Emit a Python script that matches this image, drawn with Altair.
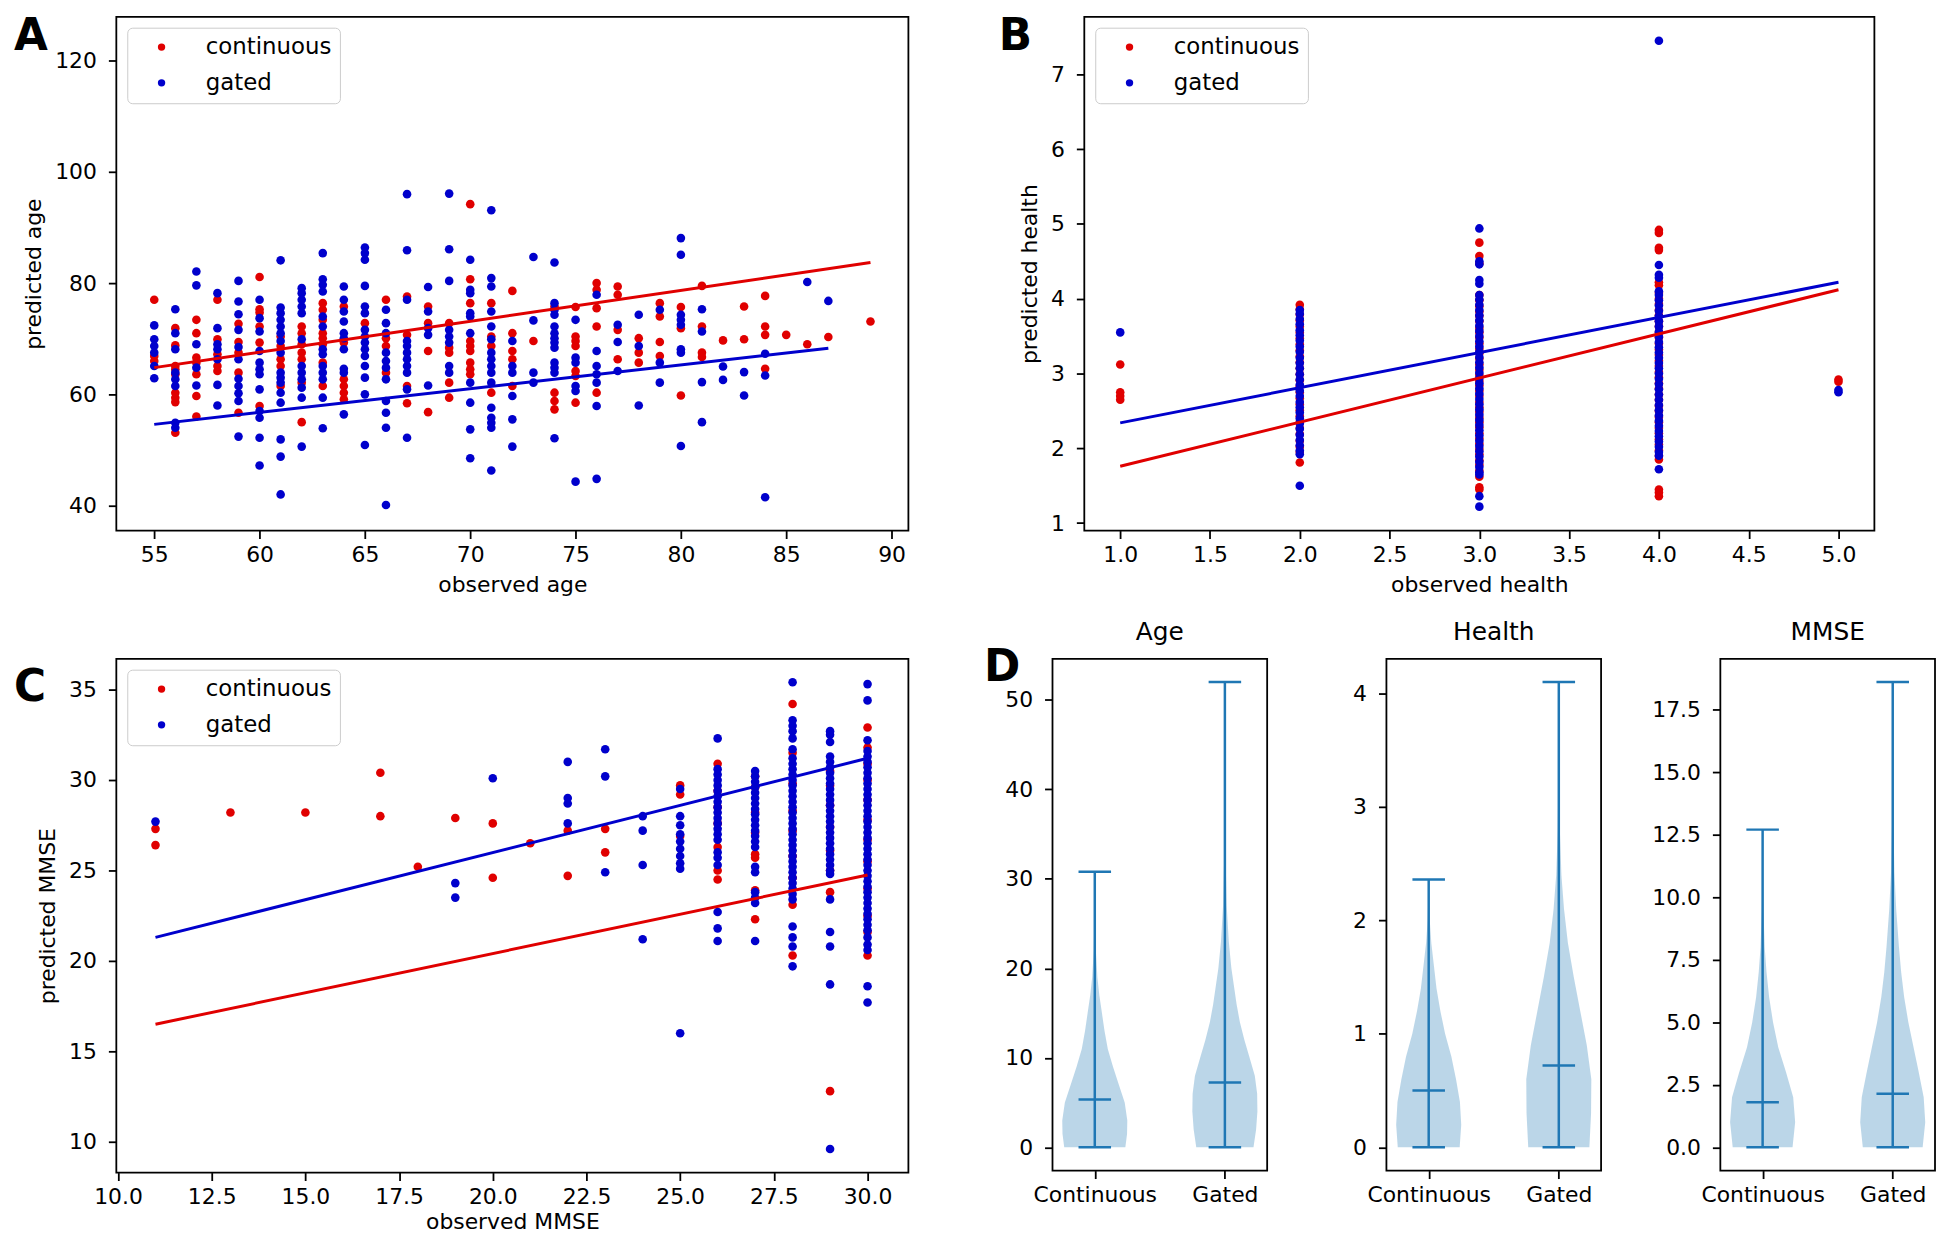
import altair as alt
import pandas as pd

RED = "#e00000"
BLUE = "#0000cc"
VIOLIN = "#1f77b4"
FONT = "DejaVu Sans"
SERIES = ["continuous", "gated"]

# ---------------- Panel A: age ----------------
age_cont_x = [55, 56, 57, 58, 59, 60, 61, 62, 63, 64, 65, 66, 67, 68, 69, 70, 71, 72,
              73, 74, 75, 76, 77, 78, 79, 80, 81, 82, 83, 84, 85, 86, 87, 89]
age_cont_y = [
    [77.0, 66.9, 66.0],
    [71.9, 68.8, 65.1, 64.5, 63.6, 60.3, 59.4, 58.6, 53.1],
    [73.4, 71.0, 66.6, 65.7, 63.6, 59.7, 56.0],
    [77.0, 69.9, 67.2, 65.1, 64.2],
    [72.7, 69.4, 67.5, 63.9, 56.7],
    [81.1, 75.3, 74.7, 72.2, 69.3, 57.9],
    [70.4, 68.7, 66.3, 65.1, 61.5],
    [72.2, 71.0, 69.0, 67.5, 66.3, 62.1, 55.0],
    [76.4, 75.2, 73.4, 71.0, 70.1, 69.0, 65.7, 61.5],
    [75.8, 69.3, 62.7, 61.5, 60.3, 59.1],
    [72.8],
    [77.0, 70.1, 68.7, 63.9],
    [77.6, 70.7, 61.5, 58.4],
    [75.8, 72.8, 67.8, 56.8],
    [72.8, 68.4, 67.5, 62.1, 59.4],
    [94.2, 80.7, 76.4, 69.6, 68.7, 67.8, 65.7, 64.5, 63.6],
    [76.4, 70.4, 68.7, 60.3],
    [78.6, 71.0, 67.8, 66.3, 61.5],
    [69.6],
    [75.8, 60.3, 58.8, 57.3],
    [75.7, 70.4, 69.6, 68.7, 64.2, 63.3, 58.5],
    [80.0, 78.8, 75.5, 72.2, 60.3],
    [79.4, 77.9, 71.6, 66.3],
    [70.1, 67.5, 65.7],
    [76.4, 74.0, 69.4, 66.9],
    [75.7, 71.9, 59.8],
    [79.5, 72.2, 67.5, 66.7],
    [69.7],
    [75.8, 69.9],
    [77.7, 72.2, 70.7, 64.6],
    [70.7],
    [69.0],
    [70.3],
    [73.1],
]
age_gated_x = [55, 56, 57, 58, 59, 60, 61, 62, 63, 64, 65, 66, 67, 68, 69, 70, 71, 72,
               73, 74, 75, 76, 77, 78, 79, 80, 81, 82, 83, 84, 86, 87]
age_gated_y = [
    [72.4, 69.9, 68.7, 67.5, 65.1, 62.9],
    [75.3, 71.0, 68.1, 63.9, 62.7, 61.5, 54.9, 54.0],
    [82.1, 79.6, 69.0, 64.8, 61.6],
    [123.7, 78.2, 71.9, 69.0, 68.1, 66.3, 61.7, 58.0],
    [80.4, 76.7, 74.4, 71.6, 68.5, 66.3, 62.8, 61.5, 60.2, 58.8, 52.4],
    [77.0, 73.7, 71.3, 67.8, 65.7, 64.5, 63.6, 60.9, 57.0, 55.8, 52.2, 47.2],
    [84.1, 75.6, 74.6, 73.4, 72.2, 71.0, 69.6, 67.5, 63.9, 63.0, 62.1, 60.3, 58.5, 51.9, 48.8, 42.0],
    [79.1, 78.2, 77.0, 75.8, 74.6, 69.9, 65.1, 63.9, 62.7, 61.2, 59.4, 50.6],
    [85.4, 80.7, 79.7, 78.5, 74.0, 72.2, 68.1, 67.2, 65.1, 63.9, 62.7, 59.4, 53.9],
    [79.4, 77.0, 74.9, 73.1, 71.0, 70.1, 68.1, 64.6, 63.9, 56.4],
    [86.4, 85.4, 84.2, 79.5, 75.8, 74.6, 71.6, 70.4, 69.3, 68.1, 66.9, 65.1, 63.0, 60.0, 50.9],
    [75.2, 72.8, 71.0, 67.5, 66.0, 64.8, 62.7, 58.8, 56.7, 54.0, 40.1],
    [96.0, 85.9, 77.0, 69.6, 68.7, 67.5, 66.3, 65.1, 63.9, 60.9, 52.2],
    [79.3, 74.9, 71.9, 70.7, 61.6],
    [96.1, 86.1, 80.4, 71.6, 70.4, 69.3, 65.1, 63.9],
    [84.2, 78.8, 78.2, 74.6, 74.0, 71.0, 62.1, 58.5, 53.7, 48.5],
    [93.1, 80.9, 79.4, 74.9, 72.2, 69.9, 67.5, 66.3, 65.1, 63.9, 62.1, 57.6, 55.8, 54.9, 54.0, 46.3],
    [69.6, 65.1, 63.9, 59.7, 55.5, 50.6],
    [84.7, 73.3, 63.9, 62.1],
    [83.7, 76.4, 75.2, 74.3, 72.2, 71.0, 70.1, 69.3, 68.4, 65.7, 64.8, 63.9, 52.1],
    [73.4, 66.6, 65.7, 61.5, 60.6, 44.3],
    [77.9, 67.8, 65.1, 63.6, 62.1, 57.9, 44.8],
    [72.5, 69.4, 64.2],
    [74.3, 68.7, 58.0],
    [75.2, 65.7, 62.1],
    [88.1, 85.1, 74.3, 73.4, 72.5, 68.1, 67.5, 50.7],
    [75.3, 71.3, 62.2, 55.0],
    [65.0, 62.6],
    [64.0, 59.8],
    [67.3, 63.4, 41.5],
    [80.2],
    [76.8],
]
age_fit_cont_x = [55, 89]
age_fit_cont_y = [64.8, 83.7]
age_fit_gated_x = [55, 87]
age_fit_gated_y = [54.6, 68.3]

# ---------------- Panel B: health ----------------
health_cont_x = [1, 2, 3, 4, 5]
health_cont_y = [
    [3.12, 2.75, 2.70, 2.65],
    [3.92, 3.86, 3.79, 3.71, 3.63, 3.55, 3.47, 3.39, 3.31, 3.23, 3.15, 3.07, 2.99, 2.91,
     2.83, 2.75, 2.67, 2.59, 2.51, 2.43, 2.35, 2.27, 2.19, 2.10, 2.02, 1.95, 1.81],
    [4.75, 4.57, 4.47, 4.05, 3.98, 3.90, 3.83, 3.77, 3.70, 3.61, 3.55, 3.48, 3.40, 3.33,
     3.27, 3.20, 3.12, 3.05, 2.98, 2.90, 2.84, 2.77, 2.70, 2.62, 2.55, 2.49, 2.41, 2.35,
     2.28, 2.20, 2.13, 2.06, 1.99, 1.92, 1.84, 1.78, 1.70, 1.62, 1.48, 1.45],
    [4.92, 4.88, 4.68, 4.65, 4.22, 4.18, 4.08, 4.00, 3.93, 3.85, 3.78, 3.70, 3.63, 3.55,
     3.48, 3.40, 3.32, 3.25, 3.17, 3.10, 3.02, 2.95, 2.87, 2.80, 2.72, 2.65, 2.57, 2.50,
     2.42, 2.35, 2.27, 2.20, 2.12, 2.05, 1.97, 1.90, 1.85, 1.45, 1.41, 1.36],
    [2.92, 2.89],
]
health_gated_x = [1, 2, 3, 4, 5]
health_gated_y = [
    [3.55],
    [3.85, 3.80, 3.73, 3.66, 3.58, 3.51, 3.44, 3.36, 3.29, 3.21, 3.14, 3.07, 2.99, 2.92,
     2.85, 2.77, 2.70, 2.62, 2.55, 2.48, 2.40, 2.33, 2.26, 2.18, 2.11, 2.04, 1.97, 1.92, 1.50],
    [4.94, 4.50, 4.46, 4.25, 4.20, 4.05, 3.99, 3.92, 3.85, 3.78, 3.71, 3.64, 3.57, 3.50,
     3.43, 3.36, 3.29, 3.22, 3.15, 3.08, 3.01, 2.94, 2.87, 2.80, 2.73, 2.66, 2.59, 2.52,
     2.45, 2.38, 2.31, 2.24, 2.17, 2.10, 2.03, 1.96, 1.89, 1.82, 1.75, 1.68, 1.65, 1.36, 1.22],
    [7.45, 4.45, 4.32, 4.28, 4.10, 4.05, 3.98, 3.91, 3.84, 3.77, 3.70, 3.63, 3.56, 3.49,
     3.42, 3.35, 3.28, 3.21, 3.14, 3.07, 3.00, 2.93, 2.86, 2.79, 2.72, 2.65, 2.58, 2.51,
     2.44, 2.37, 2.30, 2.23, 2.16, 2.09, 2.02, 1.95, 1.90, 1.72],
    [2.78, 2.75],
]
health_fit_cont_x = [1, 5]
health_fit_cont_y = [1.76, 4.12]
health_fit_gated_x = [1, 5]
health_fit_gated_y = [2.34, 4.22]

# ---------------- Panel C: MMSE ----------------
mmse_cont_x = [11, 13, 15, 17, 18, 19, 20, 21, 22, 23, 25, 26, 27, 28, 29, 30]
mmse_cont_y = [
    [27.3, 26.4],
    [28.2],
    [28.2],
    [30.4, 28.0],
    [25.2],
    [27.9],
    [27.6, 24.6],
    [26.5],
    [27.2, 24.7],
    [27.3, 26.0],
    [29.7, 29.2, 26.9],
    [30.9, 29.4, 28.5, 27.6, 26.3, 25.0, 24.5],
    [30.2, 29.6, 28.2, 27.1, 25.9, 25.7, 23.9, 22.3],
    [34.2, 31.5, 29.8, 28.3, 27.2, 25.8, 24.6, 23.1, 20.3],
    [30.5, 29.7, 28.6, 27.4, 26.1, 25.0, 23.8, 12.8],
    [32.9, 31.8, 30.9, 30.0, 28.9, 27.8, 26.7, 25.5, 24.0, 22.5, 21.6, 20.3],
]
mmse_gated_x = [11, 19, 20, 22, 23, 24, 25, 26, 27, 28, 29, 30]
mmse_gated_y = [
    [27.7],
    [24.3, 23.5],
    [30.1],
    [31.0, 29.0, 28.7, 27.6],
    [31.7, 30.2, 24.9],
    [28.0, 27.2, 25.3, 21.2],
    [29.5, 28.0, 27.5, 27.0, 26.6, 26.2, 25.8, 25.4, 25.1, 16.0],
    [32.3, 30.6, 30.3, 30.0, 29.7, 29.4, 29.1, 28.8, 28.5, 28.2, 27.9, 27.6, 27.3, 27.0,
     26.7, 26.0, 25.7, 25.3, 22.7, 21.8, 21.1],
    [30.5, 30.2, 29.9, 29.6, 29.3, 29.0, 28.7, 28.4, 28.1, 27.8, 27.5, 27.2, 26.9, 26.6,
     26.3, 25.2, 24.9, 23.8, 23.5, 23.2, 21.1],
    [35.4, 33.3, 33.0, 32.7, 32.3, 31.7, 31.2, 30.9, 30.6, 30.3, 30.0, 29.7, 29.4, 29.1,
     28.8, 28.5, 28.2, 27.9, 27.6, 27.3, 27.0, 26.7, 26.4, 26.1, 25.8, 25.5, 25.2, 24.9,
     24.6, 24.3, 24.0, 23.7, 23.4, 21.9, 21.3, 20.8, 19.7],
    [32.7, 32.5, 32.1, 31.3, 31.0, 30.7, 30.4, 30.1, 29.8, 29.5, 29.2, 28.9, 28.6, 28.3,
     28.0, 27.7, 27.4, 27.1, 26.8, 26.5, 26.2, 25.9, 25.6, 25.3, 25.0, 24.8, 23.4, 21.6,
     20.8, 18.7, 9.6],
    [35.3, 34.4, 32.2, 31.6, 31.3, 31.0, 30.7, 30.4, 30.1, 29.8, 29.5, 29.2, 28.9, 28.6,
     28.3, 28.0, 27.7, 27.4, 27.1, 26.8, 26.5, 26.2, 25.9, 25.6, 25.3, 25.0, 24.7, 24.4,
     24.1, 23.8, 23.5, 23.2, 22.9, 22.6, 22.3, 22.0, 21.7, 21.3, 20.9, 20.6, 18.6, 17.7],
]
mmse_fit_cont_x = [11, 30]
mmse_fit_cont_y = [16.5, 24.75]
mmse_fit_gated_x = [11, 30]
mmse_fit_gated_y = [21.3, 31.2]

# ---------------- Panel D: violins of absolute error ----------------
violin_cats = ["Continuous", "Gated"]
violin_pos = [1, 2]

age_cont_lvl = [0, 1.5, 3, 5, 7, 9, 11, 13, 15, 17, 19, 22, 26, 30.8]
age_cont_hw = [0.235, 0.248, 0.25, 0.23, 0.185, 0.14, 0.10, 0.075, 0.055, 0.035, 0.02, 0.008, 0.003, 0.0]
age_gated_lvl = [0, 2, 4, 6, 8, 10, 12, 14, 16, 18, 20, 23, 27, 32, 40, 52]
age_gated_hw = [0.22, 0.24, 0.25, 0.248, 0.23, 0.19, 0.15, 0.115, 0.09, 0.07, 0.05, 0.03, 0.014, 0.006, 0.002, 0.0]
age_median = [5.35, 7.25]
age_max = [30.8, 52.0]
age_min = [0.0, 0.0]

health_cont_lvl = [0, 0.2, 0.4, 0.6, 0.8, 1.0, 1.2, 1.4, 1.6, 1.8, 2.0, 2.36]
health_cont_hw = [0.238, 0.25, 0.24, 0.21, 0.174, 0.126, 0.09, 0.06, 0.04, 0.02, 0.008, 0.0]
health_gated_lvl = [0, 0.3, 0.6, 0.9, 1.2, 1.5, 1.8, 2.1, 2.4, 2.8, 3.3, 4.1]
health_gated_hw = [0.235, 0.248, 0.25, 0.215, 0.165, 0.115, 0.07, 0.04, 0.02, 0.008, 0.003, 0.0]
health_median = [0.50, 0.72]
health_max = [2.36, 4.10]
health_min = [0.0, 0.0]

mmse_cont_lvl = [0, 1, 2, 3, 4, 5, 6, 7, 8, 9.5, 11, 12.7]
mmse_cont_hw = [0.23, 0.25, 0.235, 0.18, 0.12, 0.08, 0.05, 0.03, 0.016, 0.006, 0.002, 0.0]
mmse_gated_lvl = [0, 1, 2, 3, 4, 5, 6, 7, 8, 9.5, 11, 13, 15.5, 18.6]
mmse_gated_hw = [0.23, 0.25, 0.238, 0.2, 0.16, 0.12, 0.088, 0.065, 0.048, 0.027, 0.013, 0.005, 0.002, 0.0]
mmse_median = [1.80, 2.14]
mmse_max = [12.7, 18.6]
mmse_min = [0.0, 0.0]


def scatter_df(cx, cy, gx, gy):
    rows = []
    for series, xs, ys in (("continuous", cx, cy), ("gated", gx, gy)):
        for x, col in zip(xs, ys):
            for v in col:
                rows.append({"obs": x, "pred": v, "series": series, "idx": len(rows)})
    return pd.DataFrame(rows)


def fit_df(cx, cy, gx, gy):
    return pd.DataFrame({"obs": cx + gx, "pred": cy + gy,
                         "series": ["continuous"] * len(cx) + ["gated"] * len(gx)})


def letter_layer(letter, lx, ly):
    return alt.Chart(pd.DataFrame({"t": [letter]})).mark_text(
        font=FONT, fontSize=44, fontWeight="bold", align="left", baseline="alphabetic", color="black"
    ).encode(text="t:N", x=alt.value(lx), y=alt.value(ly))


def pin_layer(x, y1, y2):
    # invisible (white) spacer that fixes the layout bounds of a panel
    return alt.Chart(pd.DataFrame({"p": [0]})).mark_rule(color="white", strokeWidth=1).encode(
        x=alt.value(x), x2=alt.value(x), y=alt.value(y1), y2=alt.value(y2))


def scatter_panel(pts, fit, xdom, ydom, xticks, yticks, xfmt, yfmt, xtitle, ytitle,
                  letter, lx, ly, width, height, pins, xtitle_pad=9):
    xs = alt.Scale(domain=xdom, nice=False, zero=False)
    ys = alt.Scale(domain=ydom, nice=False, zero=False)
    legend = alt.Legend(title=None, orient="none", legendX=11, legendY=11,
                        fillColor="white", strokeColor="#cccccc", cornerRadius=5, padding=8,
                        labelFont=FONT, labelFontSize=23, labelColor="black",
                        symbolType="circle", symbolSize=55, symbolStrokeWidth=0, symbolOpacity=1,
                        rowPadding=12, symbolOffset=15, labelOffset=33)
    points = alt.Chart(pts).mark_circle(size=75, opacity=1).encode(
        x=alt.X("obs:Q", scale=xs,
                axis=alt.Axis(values=xticks, format=xfmt, title=xtitle, titlePadding=xtitle_pad)),
        y=alt.Y("pred:Q", scale=ys, axis=alt.Axis(values=yticks, format=yfmt, title=ytitle)),
        color=alt.Color("series:N", scale=alt.Scale(domain=SERIES, range=[RED, BLUE]), legend=legend),
        order=alt.Order("idx:Q"),
    )
    lines = alt.Chart(fit).mark_line(strokeWidth=3).encode(
        x=alt.X("obs:Q", scale=xs),
        y=alt.Y("pred:Q", scale=ys),
        stroke=alt.Stroke("series:N", scale=alt.Scale(domain=SERIES, range=[RED, BLUE]), legend=None),
        detail="series:N",
    )
    layers = [points, lines, letter_layer(letter, lx, ly)] + [pin_layer(*p) for p in pins]
    return alt.layer(*layers).properties(width=width, height=height)


def violin_panel(title, c_lvl, c_hw, g_lvl, g_hw, med, mx, mn, ydom, yticks, yfmt,
                 letter=None, width=216, height=515, title_offset=10):
    rows = []
    for grp, pos, lvl, hw in ((violin_cats[0], violin_pos[0], c_lvl, c_hw),
                              (violin_cats[1], violin_pos[1], g_lvl, g_hw)):
        for v, h in zip(lvl, hw):
            rows.append({"grp": grp, "val": v, "lo": pos - h, "hi": pos + h})
    area_df = pd.DataFrame(rows)
    stats = pd.DataFrame({"pos": violin_pos, "med": med, "mx": mx, "mn": mn})
    stats["l"] = stats["pos"] - 0.125
    stats["r"] = stats["pos"] + 0.125
    xs = alt.Scale(domain=[0.675, 2.325], nice=False, zero=False)
    ys = alt.Scale(domain=ydom, nice=False, zero=False)
    label_expr = "datum.value == 1 ? '%s' : '%s'" % (violin_cats[0], violin_cats[1])
    area = alt.Chart(area_df).mark_area(orient="horizontal", color=VIOLIN, opacity=0.3).encode(
        y=alt.Y("val:Q", scale=ys, axis=alt.Axis(values=yticks, format=yfmt, title=None)),
        x=alt.X("lo:Q", scale=xs, axis=alt.Axis(values=violin_pos, labelExpr=label_expr, title=None)),
        x2="hi:Q",
        detail="grp:N",
    )
    base = alt.Chart(stats)
    vline = base.mark_rule(color=VIOLIN, strokeWidth=2.5).encode(
        x=alt.X("pos:Q", scale=xs), y=alt.Y("mn:Q", scale=ys), y2="mx:Q")
    caps = [base.mark_rule(color=VIOLIN, strokeWidth=2.5).encode(
        x=alt.X("l:Q", scale=xs), x2="r:Q", y=alt.Y(f + ":Q", scale=ys)) for f in ("mn", "mx", "med")]
    layers = [area, vline] + caps + [pin_layer(-72, -3, 0)]
    if letter:
        layers.append(letter_layer(letter, -69, 22))
    return alt.layer(*layers).properties(
        width=width, height=height,
        title=alt.TitleParams(title, font=FONT, fontSize=25, fontWeight="normal", color="black",
                              offset=title_offset, anchor="middle", frame="group"))


panel_a = scatter_panel(
    scatter_df(age_cont_x, age_cont_y, age_gated_x, age_gated_y),
    fit_df(age_fit_cont_x, age_fit_cont_y, age_fit_gated_x, age_fit_gated_y),
    [53.2, 90.8], [35.5, 127.9], [55, 60, 65, 70, 75, 80, 85, 90], [40, 60, 80, 100, 120],
    "d", "d", "observed age", "predicted age", "A", -103, 33, 797, 517,
    pins=[(-107, -3, 589)])

panel_b = scatter_panel(
    scatter_df(health_cont_x, health_cont_y, health_gated_x, health_gated_y),
    fit_df(health_fit_cont_x, health_fit_cont_y, health_fit_gated_x, health_fit_gated_y),
    [0.8, 5.2], [0.9, 7.77], [1.0, 1.5, 2.0, 2.5, 3.0, 3.5, 4.0, 4.5, 5.0], [1, 2, 3, 4, 5, 6, 7],
    ".1f", "d", "observed health", "predicted health", "B", -86, 33, 795, 517,
    pins=[(-90, -3, 0)])

panel_c = scatter_panel(
    scatter_df(mmse_cont_x, mmse_cont_y, mmse_gated_x, mmse_gated_y),
    fit_df(mmse_fit_cont_x, mmse_fit_cont_y, mmse_fit_gated_x, mmse_fit_gated_y),
    [9.955, 31.09], [8.3, 36.7], [10.0, 12.5, 15.0, 17.5, 20.0, 22.5, 25.0, 27.5, 30.0],
    [10, 15, 20, 25, 30, 35], ".1f", "d", "observed MMSE", "predicted MMSE", "C", -103, 42,
    797, 517, pins=[(-107, -40, 0), (821, -3, 0)], xtitle_pad=4)

panel_d1 = violin_panel("Age", age_cont_lvl, age_cont_hw, age_gated_lvl, age_gated_hw,
                        age_median, age_max, age_min, [-2.6, 54.6], [0, 10, 20, 30, 40, 50], "d",
                        letter="D", title_offset=1)
panel_d2 = violin_panel("Health", health_cont_lvl, health_cont_hw, health_gated_lvl, health_gated_hw,
                        health_median, health_max, health_min, [-0.205, 4.305], [0, 1, 2, 3, 4], "d")
panel_d3 = violin_panel("MMSE", mmse_cont_lvl, mmse_cont_hw, mmse_gated_lvl, mmse_gated_hw,
                        mmse_median, mmse_max, mmse_min, [-0.93, 19.53],
                        [0.0, 2.5, 5.0, 7.5, 10.0, 12.5, 15.0, 17.5], ".1f")


def indep(c):
    return c.resolve_scale(color="independent", stroke="independent").resolve_legend(
        color="independent", stroke="independent")


row1 = indep(alt.hconcat(panel_a, panel_b, spacing=84))
row2 = indep(alt.hconcat(panel_c, panel_d1, panel_d2, panel_d3, spacing=45))
chart = indep(alt.vconcat(row1, row2, spacing=13)).properties(padding=0, background="white")

chart = chart.configure(font=FONT).configure_axis(
    labelFont=FONT, labelFontSize=22, labelColor="black", labelPadding=6,
    labelFlush=False, labelOverlap=False,
    titleFont=FONT, titleFontSize=22, titleFontWeight="normal", titleColor="black", titlePadding=9,
    tickColor="black", tickSize=8, tickWidth=1.8, domain=False, grid=False,
).configure_axisY(labelPadding=12).configure_view(stroke="black", strokeWidth=1.8)

chart.save("out.html", embed_options={"renderer": "svg", "actions": False})
